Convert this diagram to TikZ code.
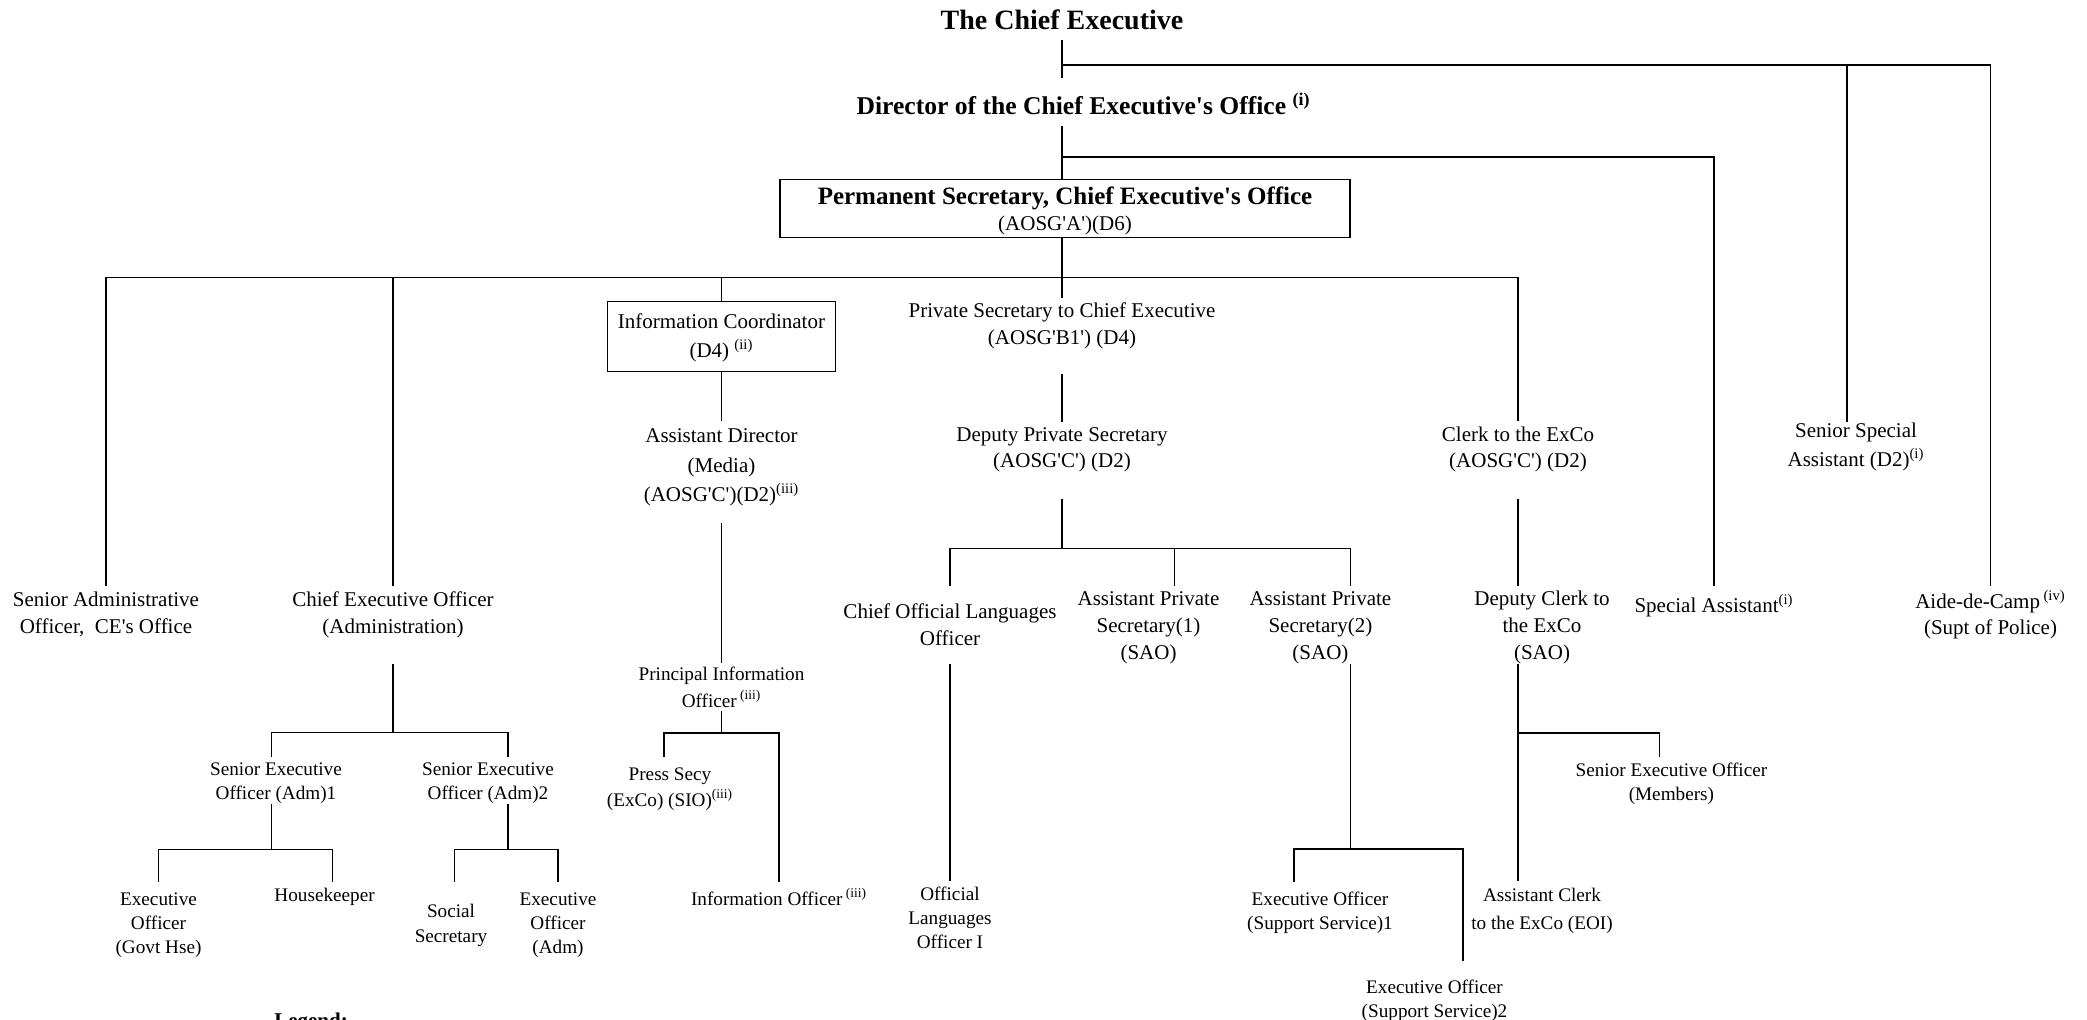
\documentclass[tikz,border=0pt]{standalone}
\usepackage{fontspec}
\setmainfont{Liberation Serif}[Ligatures=TeXOff]
\usetikzlibrary{calc}
\newcommand\fbig{\fontsize{10.5}{13.3}\selectfont}
\newcommand\fsmall{\fontsize{9.6}{12}\selectfont}
\newcommand\sx[1]{\textsuperscript{#1}}
\tikzset{
  lbl/.style={anchor=north, inner sep=0pt, align=center, font=\fbig},
  sml/.style={lbl, font=\fsmall},
  hd/.style 2 args={text height=#1, text depth=#2},
  boxed/.style={draw, line width=0.6pt},
}
\begin{document}
\begin{tikzpicture}[x=0.5pt, y=-0.5pt, line width=0.6pt]
\useasboundingbox (0,0) rectangle (2087,1019);
\clip (0,0) rectangle (2087,1019);

% ---- top levels
\node[lbl, hd={10.5pt}{5pt}, font=\fontsize{14}{16}\selectfont\bfseries] (ce) at (1062,8) {The Chief Executive};
\node[lbl, anchor=north west, hd={18pt}{5.5pt}, font=\fontsize{12.8}{15}\selectfont\bfseries] (dir) at (856,78) {Director of the Chief Executive's Office~\sx{(i)}};
\node[lbl, boxed, minimum width=285pt, hd={25.5pt}{3.5pt}] (ps) at (1065,179) {{\fontsize{12.5}{15}\selectfont\bfseries Permanent Secretary, Chief Executive's Office}\\(AOSG'A')(D6)};

% ---- second level
\node[lbl, hd={23.65pt}{3pt}] (sao) at (106,585.5) {Senior Administrative\\Officer,\ \ CE's Office};
\node[lbl, hd={23.65pt}{14.85pt}] (ceo) at (393,585.5) {Chief Executive Officer\\(Administration)};
\node[lbl, boxed, minimum width=114pt, hd={28pt}{7pt}] (ic) at (721.5,301) {Information Coordinator\\[1.2pt](D4)~\sx{(ii)}};
\node[lbl, hd={22.85pt}{14.65pt}] (privsec) at (1062,298) {Private Secretary to Chief Executive\\(AOSG'B1') (D4)};
\node[lbl, hd={23.25pt}{15.25pt}] (clerk) at (1518,420.5) {Clerk to the ExCo\\(AOSG'C') (D2)};
\node[lbl, hd={22.15pt}{3pt}] (ssa) at (1856,421.7) {Senior Special\\[1.4pt]Assistant (D2)\sx{(i)}};
\node[lbl, hd={13pt}{3pt}] (spa) at (1714,585.5) {Special Assistant\sx{(i)}};
\node[lbl, hd={24.25pt}{3pt}] (adc) at (1990.5,585.5) {Aide-de-Camp\,\sx{(iv)}\\(Supt of Police)};

% ---- media branch
\node[lbl, hd={40.25pt}{10.3pt}] (asstdir) at (721.5,420.5) {Assistant Director\\[1.45pt](Media)\\[1.45pt](AOSG'C')(D2)\sx{(iii)}};
\node[sml, hd={22pt}{1.75pt}] (pio) at (721.5,662.5) {Principal Information\\[1.5pt]Officer\,\sx{(iii)}};
\node[sml, hd={24.5pt}{3pt}] (press) at (670,756.5) {Press Secy\\[1pt](ExCo) (SIO)\sx{(iii)}};
\node[sml, hd={11.5pt}{3pt}] (io) at (779,881.6) {Information Officer\,\sx{(iii)}};

% ---- private secretary branch
\node[lbl, hd={22.65pt}{15.5pt}] (dps) at (1062,421.7) {Deputy Private Secretary\\(AOSG'C') (D2)};
\node[lbl, hd={29.6pt}{8.9pt}] (colo) at (950,585.5) {Chief Official Languages\\Officer};
\node[lbl, hd={36.5pt}{3pt}] (aps1) at (1148.5,585.5) {Assistant Private\\Secretary(1)\\(SAO)};
\node[lbl, hd={36.5pt}{2pt}] (aps2) at (1320.4,585.5) {Assistant Private\\Secretary(2)\\(SAO)};
\node[sml, hd={33.45pt}{3pt}] (olo1) at (950,880.5) {Official\\Languages\\Officer I};
\node[sml, hd={23.45pt}{3pt}] (eoss1) at (1320,881.6) {Executive Officer\\(Support Service)1};
\node[sml, hd={27.55pt}{3pt}] (eoss2) at (1434.5,961.4) {Executive Officer\\(Support Service)2};

% ---- clerk branch
\node[lbl, hd={36.5pt}{2pt}] (dclerk) at (1542,585.5) {Deputy Clerk to\\the ExCo\\(SAO)};
\node[sml, hd={21.75pt}{3pt}] (seom) at (1671.4,756.5) {Senior Executive Officer\\(Members)};
\node[sml, hd={23.95pt}{3pt}] (aclerk) at (1542,880.5) {Assistant Clerk\\[2pt]to the ExCo (EOI)};

% ---- administration branch
\node[sml, hd={20.95pt}{2.15pt}] (seo1) at (276,756.5) {Senior Executive\\Officer (Adm)1};
\node[sml, hd={20.95pt}{2.15pt}] (seo2) at (488,756.5) {Senior Executive\\Officer (Adm)2};
\node[sml, hd={35.8pt}{3pt}] (eogh) at (158.5,881.6) {Executive\\Officer\\(Govt Hse)};
\node[sml, hd={9.5pt}{3pt}] (hk) at (324.6,881.6) {Housekeeper};
\node[sml, hd={29.9pt}{3pt}] (ss) at (451,881.6) {Social\\[0.5pt]Secretary};
\node[sml, hd={35.8pt}{3pt}] (eoadm) at (558,881.6) {Executive\\Officer\\(Adm)};

\node[anchor=base, inner sep=0pt, font=\fontsize{10.5}{12}\selectfont\bfseries] (legend) at (311,1027) {Legend:};

% ---- junctions
\coordinate (jce) at (1062,65);
\coordinate (jdir) at (1062,157);
\coordinate (jps) at (1062,277.5);
\coordinate (jpio) at (721.5,733);
\coordinate (jdps) at (1062,548.4);
\coordinate (japs) at (1350.4,849);
\coordinate (jclk) at (1518,733);
\coordinate (jceo) at (393,732.4);
\coordinate (jseo1) at (271.4,849.3);
\coordinate (jseo2) at (508,849.3);

% ---- connectors
\draw (ce.south) -- (ce.south |- dir.north);
\draw (jce) -| (adc.north);
\draw ([xshift=-4.5pt]ssa.north) -- ([xshift=-4.5pt]ssa.north |- jce);
\draw (privsec.north |- dir.south) -- (privsec.north |- ps.north);
\draw (jdir) -| (spa.north);
\draw (privsec.north |- ps.south) -- (privsec.north);
\draw (sao.north) |- (jps) -| (clerk.north);
\draw (ceo.north) -- (ceo.north |- jps);
\draw (ic.north) -- (ic.north |- jps);
\draw (ic.south) -- (asstdir.north);
\draw (asstdir.south) -- (pio.north);
\draw (pio.south) -- (jpio);
\draw ([xshift=-3pt]press.north) |- (jpio) -| (io.north);
\draw (privsec.south) -- (dps.north);
\draw (dps.south) -- (jdps);
\draw (colo.north) |- (jdps) -| ([xshift=15pt]aps2.north);
\draw ([xshift=13pt]aps1.north) -- ([xshift=13pt]aps1.north |- jdps);
\draw (colo.south) -- (olo1.north);
\draw ([xshift=15pt]aps2.south) -- (japs);
\draw ([xshift=-13pt]eoss1.north) |- (japs) -| ([xshift=14.25pt]eoss2.north);
\draw (clerk.south) -- (clerk.south |- dclerk.north);
\draw (clerk.south |- dclerk.south) -- (clerk.south |- aclerk.north);
\draw (jclk) -| ([xshift=-6pt]seom.north);
\draw (ceo.south) -- (jceo);
\draw ([xshift=-2.3pt]seo1.north) |- (jceo) -| ([xshift=10pt]seo2.north);
\draw ([xshift=-2.3pt]seo1.south) -- (jseo1);
\draw (eogh.north) |- (jseo1) -| ([xshift=4pt]hk.north);
\draw ([xshift=10pt]seo2.south) -- (jseo2);
\draw ([xshift=1.75pt]ss.north) |- (jseo2) -| (eoadm.north);
\end{tikzpicture}
\end{document}
